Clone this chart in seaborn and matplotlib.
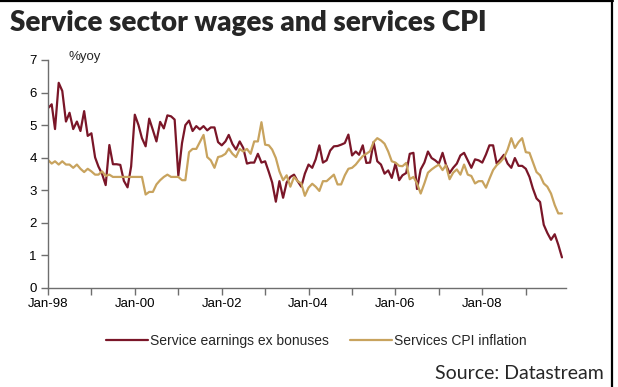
import matplotlib
matplotlib.use("Agg")
import matplotlib.pyplot as plt
import matplotlib.dates as mdates
from matplotlib.lines import Line2D
import numpy as np
import pandas as pd
import seaborn as sns

# ---------------- data ----------------
series_names = ["Service earnings ex bonuses", "Services CPI inflation"]
start_month = "1998-01-01"

earnings = [
    5.52, 5.64, 4.88, 6.30, 6.05, 5.11, 5.38, 4.88, 5.11, 4.82, 5.43, 4.67,
    4.75, 4.01, 3.73, 3.50, 3.16, 4.39, 3.80, 3.80, 3.78, 3.29, 3.09, 3.73,
    5.32, 5.00, 4.60, 4.35, 5.20, 4.85, 4.50, 5.10, 4.90, 5.30, 5.27, 5.17,
    3.45, 4.45, 5.00, 5.14, 4.82, 4.97, 4.87, 4.97, 4.84, 4.93, 4.93, 4.48,
    4.38, 4.50, 4.70, 4.42, 4.25, 4.50, 4.30, 3.82, 3.85, 3.85, 4.12, 3.85,
    3.89, 3.56, 3.24, 2.65, 3.28, 2.77, 3.24, 3.41, 3.48, 3.28, 3.11, 3.51,
    3.79, 3.69, 3.95, 4.38, 3.85, 3.92, 4.22, 4.35, 4.36, 4.40, 4.45, 4.71,
    4.07, 4.19, 4.09, 4.38, 3.84, 3.85, 4.48, 3.89, 3.79, 3.51, 3.61, 3.38,
    3.82, 3.31, 3.46, 3.53, 4.12, 4.15, 3.04, 3.64, 3.85, 4.19, 3.99, 3.92,
    3.82, 4.15, 3.79, 3.53, 3.69, 3.82, 4.07, 4.15, 3.92, 3.69, 3.95, 3.92,
    3.85, 4.10, 4.38, 4.38, 3.82, 3.95, 4.09, 3.82, 3.69, 3.99, 3.75, 3.75,
    3.66, 3.41, 3.06, 2.75, 2.64, 1.94, 1.69, 1.48, 1.65, 1.33, 0.94,
]

cpi = [
    3.93, 3.82, 3.89, 3.79, 3.89, 3.79, 3.79, 3.69, 3.79, 3.66, 3.56, 3.66,
    3.58, 3.48, 3.48, 3.58, 3.44, 3.48, 3.41, 3.41, 3.41, 3.41, 3.41, 3.41,
    3.41, 3.41, 3.41, 2.87, 2.95, 2.95, 3.18, 3.31, 3.41, 3.48, 3.41, 3.41,
    3.41, 3.31, 3.31, 4.17, 4.27, 4.27, 4.48, 4.70, 4.02, 3.92, 3.69, 4.02,
    4.05, 4.12, 4.28, 4.12, 4.02, 4.27, 4.19, 4.27, 4.12, 4.50, 4.50, 5.09,
    4.40, 4.38, 4.25, 3.99, 3.58, 3.31, 3.46, 3.11, 3.41, 3.28, 3.21, 2.83,
    3.08, 3.20, 3.11, 2.98, 3.28, 3.28, 3.38, 3.48, 3.18, 3.18, 3.46, 3.66,
    3.69, 3.79, 3.92, 4.05, 4.12, 4.20, 4.48, 4.60, 4.53, 4.43, 4.19, 3.89,
    3.85, 3.75, 3.74, 3.84, 3.34, 3.41, 3.21, 2.90, 3.21, 3.54, 3.64, 3.72,
    3.79, 3.62, 3.77, 3.34, 3.54, 3.64, 3.48, 3.79, 3.48, 3.44, 3.21, 3.28,
    3.28, 3.08, 3.35, 3.62, 3.77, 3.87, 4.00, 4.25, 4.60, 4.30, 4.48, 4.60,
    4.17, 4.15, 3.87, 3.56, 3.46, 3.21, 3.11, 2.90, 2.55, 2.29, 2.29,
]

y_ticks = [0, 1, 2, 3, 4, 5, 6, 7]
unit_label = "%yoy"
title_text = "Service sector wages and services CPI"
source_text = "Source: Datastream"

# ---------------- build long-form table ----------------
n = len(earnings)
dates = pd.date_range(start_month, periods=n, freq="MS")
df = pd.DataFrame({
    "date": list(dates) + list(dates),
    "value": earnings + cpi,
    "series": [series_names[0]] * n + [series_names[1]] * n,
})

# ---------------- styling ----------------
sns.set_style("white")
plt.rcParams["font.family"] = ["Liberation Sans", "DejaVu Sans"]

RED = "#7A1628"
TAN = "#C8A35E"
AXIS_GREY = "#6E6E6E"

W, H = 618, 387
fig = plt.figure(figsize=(W / 100, H / 100), dpi=100)
fig.patch.set_facecolor("white")

ax_left, ax_right, ax_top, ax_bottom = 48, 566, 60, 288
ax = fig.add_axes([ax_left / W, 1 - ax_bottom / H,
                   (ax_right - ax_left) / W, (ax_bottom - ax_top) / H])

sns.lineplot(data=df, x="date", y="value", hue="series",
             hue_order=series_names, palette=[RED, TAN],
             linewidth=1.6, ax=ax, legend=True)

ax.set_ylim(0, 7)
ax.set_yticks(y_ticks)
ax.set_xlim(pd.Timestamp("1998-01-01"), pd.Timestamp("2009-12-05"))
ax.xaxis.set_major_locator(mdates.YearLocator(2))
ax.xaxis.set_major_formatter(mdates.DateFormatter("%b-%y"))
ax.xaxis.set_minor_locator(mdates.YearLocator(1))
ax.set_xlabel("")
ax.set_ylabel("")

for side in ["top", "right"]:
    ax.spines[side].set_visible(False)
for side in ["left", "bottom"]:
    ax.spines[side].set_visible(True)
    ax.spines[side].set_color(AXIS_GREY)
    ax.spines[side].set_linewidth(1.0)

ax.tick_params(axis="both", which="both", direction="out", length=5,
               width=1.0, color=AXIS_GREY, labelsize=9.5,
               labelcolor="black", pad=3,
               bottom=True, left=True)
ax.tick_params(axis="x", which="minor", length=5, width=1.0,
               color=AXIS_GREY)
ax.tick_params(axis="x", which="major", pad=2)
ax.grid(False)

ax.text(0.04, 7.08, unit_label, transform=ax.get_yaxis_transform(),
        fontsize=9.5, va="center", ha="left")

sns.move_legend(ax, loc="center", bbox_to_anchor=(0.512, 1 - 341 / H),
                bbox_transform=fig.transFigure, ncol=2, frameon=False,
                title=None, fontsize=10, handlelength=3.0,
                handletextpad=0.15, columnspacing=1.5)

fig.text(10 / W, 1 - 31 / H, title_text, fontsize=20.1, fontweight="heavy",
         family=["Lato", "DejaVu Sans"], ha="left", va="baseline")
fig.text(604 / W, 1 - 379 / H, source_text, fontsize=14,
         family=["Lato", "DejaVu Sans"], ha="right", va="baseline")

# frame lines (top and right) as in the reference
fig.add_artist(Line2D([0, 613 / W], [1 - 1 / H, 1 - 1 / H],
                      transform=fig.transFigure, color="black", linewidth=1.6))
fig.add_artist(Line2D([612 / W, 612 / W], [0, 1 - 1 / H],
                      transform=fig.transFigure, color="black", linewidth=1.6))

fig.savefig("out.png", dpi=100, facecolor="white")
